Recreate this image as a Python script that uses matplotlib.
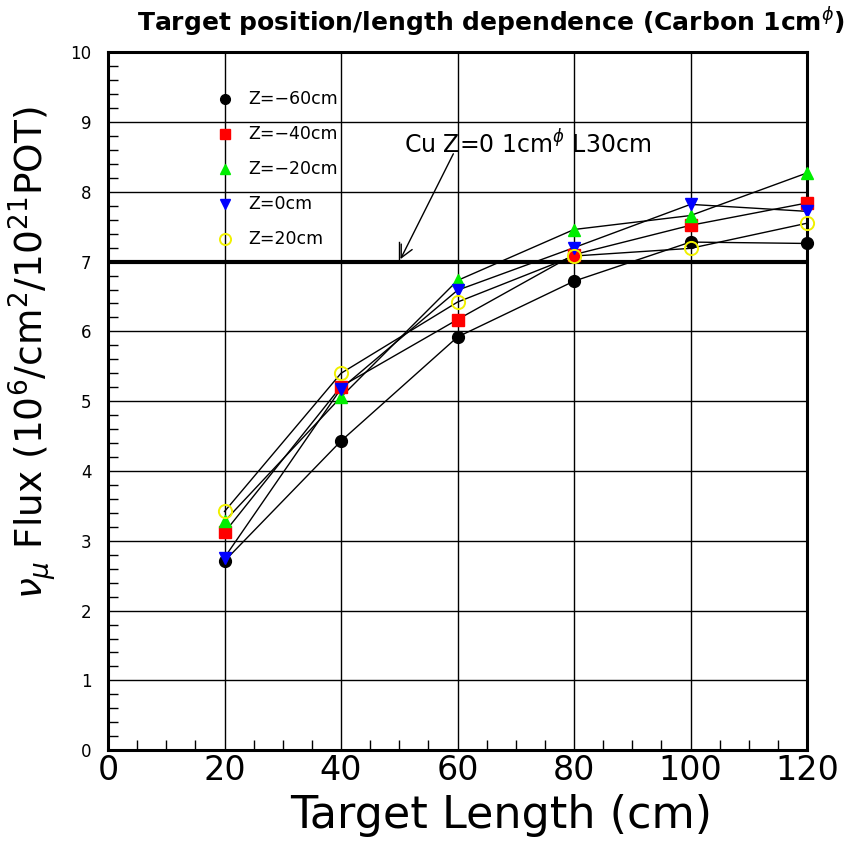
import matplotlib
matplotlib.use("Agg")
import matplotlib.pyplot as plt
from matplotlib.ticker import MultipleLocator

# target length (cm)
lengths = [20, 40, 60, 80, 100, 120]

# numu flux (10^6/cm^2/10^21 POT) for each target position
flux_z_m60 = [2.71, 4.43, 5.92, 6.72, 7.28, 7.26]
flux_z_m40 = [3.12, 5.21, 6.17, 7.10, 7.52, 7.84]
flux_z_m20 = [3.28, 5.06, 6.73, 7.46, 7.66, 8.27]
flux_z_0 = [2.76, 5.18, 6.59, 7.20, 7.82, 7.72]
flux_z_20 = [3.42, 5.40, 6.42, 7.08, 7.19, 7.55]

labels = ["Z=\u221260cm", "Z=\u221240cm", "Z=\u221220cm", "Z=0cm", "Z=20cm"]

# Cu reference target flux
cu_ref = 7.0

fig = plt.figure(figsize=(8.62, 8.42), dpi=100)
ax = fig.add_axes([0.1253, 0.109, 0.8109, 0.829])

series = [flux_z_m60, flux_z_m40, flux_z_m20, flux_z_0, flux_z_20]
styles = [
    dict(marker="o", mfc="black", mec="black", ms=8.5),
    dict(marker="s", mfc="red", mec="red", ms=8.5),
    dict(marker="^", mfc="#00ee00", mec="#00ee00", ms=8.5),
    dict(marker="v", mfc="blue", mec="blue", ms=8.5),
    dict(marker="o", mfc="none", mec="#f0f000", ms=9.5, mew=1.4),
]

for vals, st in zip(series, styles):
    ax.plot(lengths, vals, color="black", lw=1.0, zorder=3)
    ax.plot(lengths, vals, ls="none", zorder=4, clip_on=False,
            marker=st["marker"], mfc=st["mfc"], mec=st["mec"], ms=st["ms"],
            mew=st.get("mew", 1.0))

# legend drawn by hand in the upper left
leg_y = [9.33, 8.83, 8.33, 7.82, 7.32]
for y, lab, st in zip(leg_y, labels, styles):
    ax.plot([20], [y], ls="none", marker=st["marker"], mfc=st["mfc"],
            mec=st["mec"], ms=st["ms"] - 1.5, mew=st.get("mew", 1.0), zorder=4)
    ax.text(24, y, lab, fontsize=12.5, va="center", ha="left")

ax.axhline(cu_ref, color="black", lw=3, zorder=2)
ax.plot([50, 50], [cu_ref, cu_ref + 0.28], color="black", lw=1)
ax.annotate("", xy=(50, cu_ref), xytext=(59.5, 8.58),
            arrowprops=dict(arrowstyle="->", color="black", lw=1,
                            mutation_scale=22))
ax.text(50.9, 8.69, "Cu Z=0 1cm$^{\\phi}$ L30cm", fontsize=17,
        va="center", ha="left")

ax.set_xlim(0, 120)
ax.set_ylim(0, 10)
ax.xaxis.set_major_locator(MultipleLocator(20))
ax.xaxis.set_minor_locator(MultipleLocator(5))
ax.yaxis.set_major_locator(MultipleLocator(1))
ax.yaxis.set_minor_locator(MultipleLocator(0.2))
ax.grid(True, which="major", color="black", lw=1.0)
ax.tick_params(which="both", direction="in", top=False, right=False)
ax.tick_params(which="major", length=0)
ax.tick_params(which="minor", length=7, width=1)
ax.tick_params(axis="x", labelsize=24, pad=3)
ax.tick_params(axis="y", labelsize=12, pad=12)
for s in ax.spines.values():
    s.set_linewidth(2.2)

ax.set_xlabel("Target Length (cm)", fontsize=32)
ax.xaxis.set_label_coords(0.562, -0.063)
ax.set_ylabel("$\\nu_{\\mu}$ Flux (10$^{6}$/cm$^{2}$/10$^{21}$POT)",
              fontsize=27)
ax.yaxis.set_label_coords(-0.072, 0.57)
fig.text(0.57, 0.974, "Target position/length dependence (Carbon 1cm$^{\\phi}$)",
         fontsize=18, fontweight="semibold", ha="center", va="center")

plt.savefig("out.png", dpi=100)
plt.close(fig)
